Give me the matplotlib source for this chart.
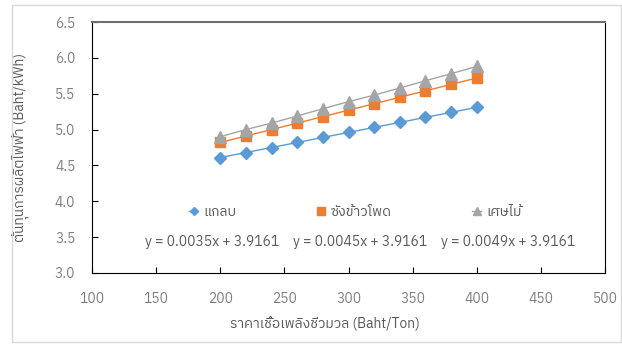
import matplotlib
matplotlib.use("Agg")
from matplotlib import pyplot as plt
from matplotlib import font_manager
from matplotlib.patches import Rectangle

price = [200, 220, 240, 260, 280, 300, 320, 340, 360, 380, 400]
kaelab = [4.61, 4.68, 4.75, 4.82, 4.89, 4.96, 5.03, 5.10, 5.17, 5.24, 5.31]
sang_khao_phot = [4.82, 4.91, 5.00, 5.09, 5.18, 5.27, 5.36, 5.45, 5.54, 5.63, 5.72]
sed_mai = [4.90, 5.00, 5.09, 5.19, 5.29, 5.39, 5.48, 5.58, 5.68, 5.78, 5.88]
names = ["แกลบ", "ซังข้าวโพด", "เศษไม้"]
equations = ["y = 0.0035x + 3.9161", "y = 0.0045x + 3.9161", "y = 0.0049x + 3.9161"]

installed = {f.name for f in font_manager.fontManager.ttflist}
thai = [n for n in sorted(installed) if "Thai" in n or n in ("Tahoma", "Garuda", "Loma", "Sarabun")]
plt.rcParams["font.family"] = thai + ["DejaVu Sans"]

grey = "#7f7f7f"
fig = plt.figure(figsize=(6.22, 3.44), dpi=100)
fig.patches.append(Rectangle((12 / 622, 2 / 344), 609 / 622, 337 / 344, transform=fig.transFigure,
                             fill=False, edgecolor="#d9d9d9", linewidth=1))
ax = fig.add_axes([92 / 622, 71 / 344, 513 / 622, 251 / 344])

ax.plot(price, kaelab, color="#5b9bd5", lw=1, marker="D", ms=6.5, label=names[0])
ax.plot(price, sang_khao_phot, color="#ed7d31", lw=1, marker="s", ms=7.5, label=names[1])
ax.plot(price, sed_mai, color="#a5a5a5", lw=1, marker="^", ms=8, label=names[2])

ax.set_xlim(100, 500)
ax.set_ylim(3.0, 6.5)
ax.set_xticks(range(100, 501, 50))
ax.set_yticks([3.0, 3.5, 4.0, 4.5, 5.0, 5.5, 6.0, 6.5])
ax.set_yticklabels([f"{v:.1f}" for v in ax.get_yticks()])
ax.tick_params(direction="in", length=4, colors="black", labelcolor=grey, labelsize=10)
ax.tick_params(axis="x", pad=14)
ax.tick_params(axis="y", pad=12)
for side in ["left", "bottom", "right"]:
    ax.spines[side].set_color("black")
ax.spines["top"].set_color("#6e6e6e")
ax.spines["top"].set_linewidth(1.5)

ax.set_xlabel("ราคาเชื้อเพลิงชีวมวล (Baht/Ton)", color="#595959", fontsize=10)
ax.xaxis.set_label_coords(0.454, -0.175)
ax.set_ylabel("ต้นทุนการผลิตไฟฟ้า (Baht/kWh)", color="#595959", fontsize=10)
ax.yaxis.set_label_coords(-0.123, 0.5)

ax.legend(loc="center left", bbox_to_anchor=(0.19, 0.243), ncol=3, frameon=False,
          borderaxespad=0, borderpad=0, fontsize=10, labelcolor="#595959",
          columnspacing=5.8, handlelength=0.6, handletextpad=0.4, markerscale=0.7)

for x, eq in zip([0.235, 0.522, 0.811], equations):
    ax.text(x, 0.123, eq, transform=ax.transAxes, ha="center", va="center",
            color="#595959", fontsize=10)

fig.savefig("out.png", dpi=100)
